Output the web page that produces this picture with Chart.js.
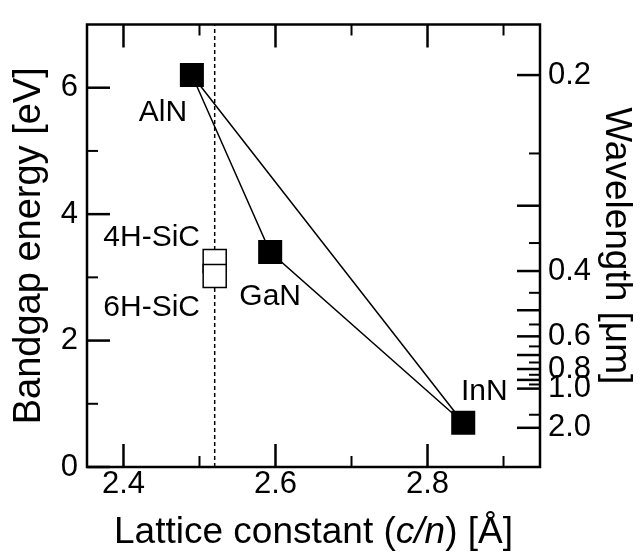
<!DOCTYPE html>
<html>
<head>
<meta charset="utf-8">
<script src="https://cdn.jsdelivr.net/npm/chart.js@4.4.1/dist/chart.umd.min.js"></script>
<style>
  html, body { margin: 0; padding: 0; background: #fff; }
</style>
</head>
<body>
<canvas id="bandgapChart" width="640" height="553"></canvas>
<script>
// nitride semiconductors
const nitrides = ['AlN', 'GaN', 'InN'];
const nitrideLattice = [2.49, 2.593, 2.847];
const nitrideGap = [6.2, 3.4, 0.7];

// SiC polytypes
const sicTypes = ['4H-SiC', '6H-SiC'];
const sicLattice = [2.52, 2.52];
const sicGap = [3.26, 3.02];

// vertical reference line (dashed)
const refLattice = 2.52;

// ticks
const xTicks = [2.4, 2.5, 2.6, 2.7, 2.8, 2.9];
const xLabels = [2.4, 2.6, 2.8];
const yTicks = [0, 1, 2, 3, 4, 5, 6];
const yLabels = [0, 2, 4, 6];
const wlMajor = [0.2, 0.3, 0.4, 0.5, 0.6, 0.7, 0.8, 0.9, 1.0, 2.0];
const wlMinor = [0.25, 0.35, 0.45, 0.55, 0.65, 0.75, 0.85, 0.95, 1.5];
const wlLabels = [0.2, 0.4, 0.6, 0.8, 1.0, 2.0];

const HC = 1.24; // eV * um
const FONT = '"Liberation Sans", Arial, Helvetica, sans-serif';

const has = (list, v) => list.some(u => Math.abs(u - v) < 1e-6);

// label offsets in px from the marker centre (text baseline, centred)
const labelOffsets = {
  'AlN': [-29, 46],
  'GaN': [0, 53],
  'InN': [21, -23],
  '4H-SiC': [-63, -15],
  '6H-SiC': [-63, 40],
};

const frameAndLabels = {
  id: 'frameAndLabels',
  afterDatasetsDraw(chart) {
    const { ctx, chartArea: a, scales } = chart;
    const { x, y, y2 } = scales;
    ctx.save();
    ctx.strokeStyle = '#000';
    ctx.fillStyle = '#000';
    const seg = (x1, y1, x2, y2_, w) => {
      ctx.lineWidth = w;
      ctx.beginPath();
      ctx.moveTo(x1, y1);
      ctx.lineTo(x2, y2_);
      ctx.stroke();
    };

    // inward ticks
    x.ticks.forEach(t => {
      const px = x.getPixelForValue(t.value);
      const len = t.major ? 23 : 11;
      const w = t.major ? 2.5 : 2;
      seg(px, a.bottom, px, a.bottom - len, w);
      seg(px, a.top, px, a.top + len, w);
    });
    y.ticks.forEach(t => {
      const py = y.getPixelForValue(t.value);
      const len = t.major ? 23 : 11;
      seg(a.left, py, a.left + len, py, t.major ? 2.5 : 2);
    });
    y2.ticks.forEach(t => {
      const py = y2.getPixelForValue(t.value);
      const len = t.major ? 23 : 11;
      seg(a.right, py, a.right - len, py, t.major ? 2.5 : 2);
    });

    ctx.lineWidth = 2.5;
    ctx.strokeRect(a.left, a.top, a.right - a.left, a.bottom - a.top);

    // point labels
    ctx.font = '30px ' + FONT;
    ctx.textAlign = 'center';
    ctx.textBaseline = 'alphabetic';
    nitrides.forEach((name, i) => {
      const [dx, dy] = labelOffsets[name];
      ctx.fillText(name, x.getPixelForValue(nitrideLattice[i]) + dx, y.getPixelForValue(nitrideGap[i]) + dy);
    });
    sicTypes.forEach((name, i) => {
      const [dx, dy] = labelOffsets[name];
      ctx.fillText(name, x.getPixelForValue(sicLattice[i]) + dx, y.getPixelForValue(sicGap[i]) + dy);
    });

    // x axis title with italic c/n
    const parts = [
      ['Lattice constant (', ''],
      ['c/n', 'italic '],
      [') [Å]', ''],
    ];
    const size = 37;
    let total = 0;
    parts.forEach(([txt, st]) => { ctx.font = st + size + 'px ' + FONT; total += ctx.measureText(txt).width; });
    let cx = (a.left + a.right) / 2 - total / 2;
    ctx.textAlign = 'left';
    parts.forEach(([txt, st]) => {
      ctx.font = st + size + 'px ' + FONT;
      ctx.fillText(txt, cx, 543);
      cx += ctx.measureText(txt).width;
    });
    ctx.restore();
  }
};

new Chart(document.getElementById('bandgapChart'), {
  type: 'scatter',
  data: {
    datasets: [
      {
        label: 'nitrides',
        data: nitrides.map((n, i) => ({ x: nitrideLattice[i], y: nitrideGap[i] })),
        pointStyle: 'rect',
        pointRadius: 17,
        backgroundColor: '#000',
        borderColor: '#000',
        borderWidth: 0,
        order: 1,
      },
      {
        label: 'SiC',
        data: sicTypes.map((n, i) => ({ x: sicLattice[i], y: sicGap[i] })),
        pointStyle: 'rect',
        pointRadius: 16.3,
        backgroundColor: '#fff',
        borderColor: '#000',
        borderWidth: 1.5,
        order: 2,
      },
      {
        label: 'ref',
        data: [{ x: refLattice, y: 0 }, { x: refLattice, y: 7 }],
        showLine: true,
        pointRadius: 0,
        borderColor: '#000',
        borderWidth: 1.5,
        borderDash: [4, 3],
        order: 3,
      },
      {
        label: 'triangle',
        data: [0, 1, 2, 0].map(i => ({ x: nitrideLattice[i], y: nitrideGap[i] })),
        showLine: true,
        pointRadius: 0,
        borderColor: '#000',
        borderWidth: 1.5,
        order: 4,
      },
    ],
  },
  options: {
    responsive: false,
    animation: false,
    events: [],
    layout: { padding: { top: 15, left: 0, right: 0, bottom: 0 } },
    plugins: { legend: { display: false }, tooltip: { enabled: false } },
    scales: {
      x: {
        type: 'linear',
        position: 'bottom',
        min: 2.352,
        max: 2.948,
        afterBuildTicks: s => { s.ticks = xTicks.map(v => ({ value: v, major: has(xLabels, v) })); },
        afterFit: s => { s.height = 86; },
        ticks: {
          autoSkip: false,
          maxRotation: 0,
          padding: 2,
          color: '#000',
          font: { family: FONT, size: 31, lineHeight: 1 },
          callback: v => has(xLabels, v) ? v.toFixed(1) : '',
        },
        grid: { display: false, drawTicks: false },
        border: { display: false },
        title: { display: false },
      },
      y: {
        type: 'linear',
        position: 'left',
        min: 0,
        max: 7,
        afterBuildTicks: s => { s.ticks = yTicks.map(v => ({ value: v, major: has(yLabels, v) })); },
        afterFit: s => { s.width = 87; },
        ticks: {
          autoSkip: false,
          padding: 9,
          color: '#000',
          font: { family: FONT, size: 31, lineHeight: 1 },
          callback: v => has(yLabels, v) ? String(v) : '',
        },
        grid: { display: false, drawTicks: false },
        border: { display: false },
        title: {
          display: true,
          text: 'Bandgap energy [eV]',
          color: '#000',
          font: { family: FONT, size: 38, lineHeight: 1 },
          padding: { top: 11, bottom: 0 },
        },
      },
      y2: {
        type: 'linear',
        position: 'right',
        min: 0,
        max: 7,
        afterBuildTicks: s => {
          const major = wlMajor.map(l => ({ value: HC / l, major: true, wl: l }));
          const minor = wlMinor.map(l => ({ value: HC / l, major: false, wl: l }));
          s.ticks = major.concat(minor).sort((p, q) => p.value - q.value);
        },
        afterFit: s => { s.width = 100; },
        ticks: {
          autoSkip: false,
          padding: 8,
          color: '#000',
          font: { family: FONT, size: 31, lineHeight: 1 },
          callback: (v, i, ticks) => {
            const l = ticks[i].wl;
            return has(wlLabels, l) ? l.toFixed(1) : '';
          },
        },
        grid: { display: false, drawTicks: false },
        border: { display: false },
        title: {
          display: true,
          text: 'Wavelength [μm]',
          color: '#000',
          font: { family: FONT, size: 37, lineHeight: 1 },
          padding: { top: 5, bottom: 0 },
        },
      },
    },
  },
  plugins: [frameAndLabels],
});
</script>
</body>
</html>
